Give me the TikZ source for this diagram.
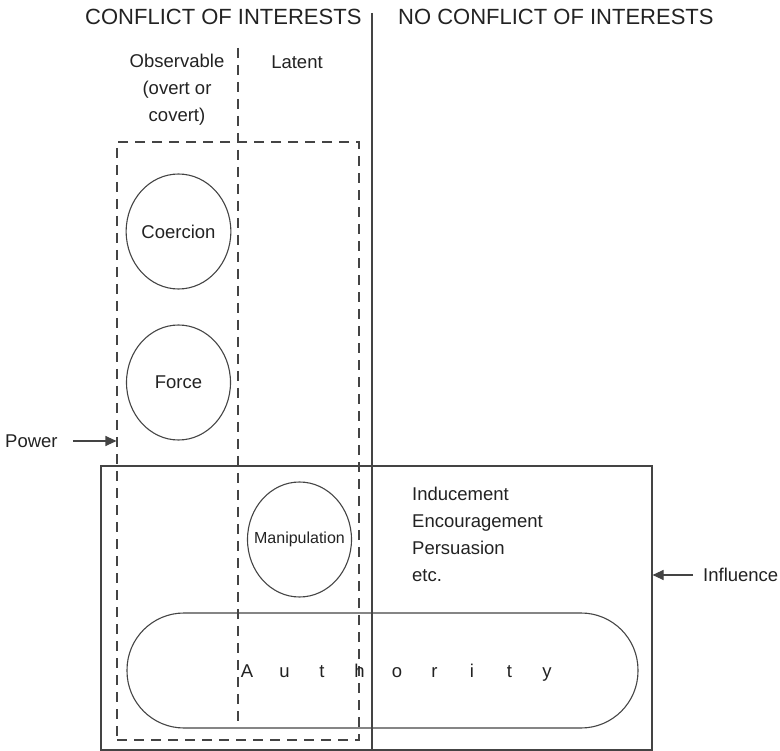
\documentclass[tikz,border=0pt]{standalone}
\usepackage{fontspec}
\setmainfont{Liberation Sans}
\usetikzlibrary{arrows.meta,positioning,shapes.geometric}
\definecolor{ink}{HTML}{222222}
\definecolor{edge}{HTML}{444444}

\begin{document}
\begin{tikzpicture}[x=1pt,y=-1pt,
  txt/.style={text=ink,font=\fontsize{18.5}{27}\selectfont,inner sep=0pt},
  head/.style={text=ink,font=\fontsize{22}{26}\selectfont,inner sep=0pt},
  frame/.style={draw=edge,line width=1.1pt,inner sep=0pt},
  bubble/.style={frame,ellipse,minimum width=104pt,minimum height=115pt,txt},
  dashbox/.style={frame,dash pattern=on 10pt off 7pt},
  arr/.style={-{Triangle[length=11pt,width=10pt]},draw=edge,line width=1.1pt}]
\useasboundingbox (0,0) rectangle (780,751);
% headings
\node[head,anchor=west] (coi) at (85,17) {CONFLICT OF INTERESTS};
\node[head,anchor=west] (ncoi) at (398,17) {NO CONFLICT OF INTERESTS};
\node[txt,align=center] (obs) at (177,90) {Observable\\(overt or\\covert)};
\node[txt] (lat) at (297,62) {Latent};
\draw[edge,line width=1.1pt] (372,13) -- (372,751);
\draw[dashbox] (238,48) -- (238,728);
% boxes
\node[dashbox,minimum width=242pt,minimum height=598pt] (powbox) at (238,441) {};
\node[frame,minimum width=551pt,minimum height=284pt] (inflbox) at (376.5,608) {};
\node[frame,rounded corners=57pt,minimum width=511pt,minimum height=115pt] (auth) at (382.5,670.5) {};
\node[txt] (authlbl) at (397,673) {\foreach \c in {A,u,t,h,o,r,i,t,y}{\makebox[37.5pt]{\c}}};
% forms of power
\node[bubble] (coer) at (178.5,231.5) {Coercion};
\node[bubble] (force) at (178.5,382.5) {Force};
\node[bubble,inner xsep=-14pt,font=\fontsize{16}{19}\selectfont] (manip) at (299.5,539.5) {Manipulation};
\node[txt,align=left,anchor=north west] (kinds) at (412,487) {Inducement\\Encouragement\\Persuasion\\etc.};
% side labels
\node[txt,anchor=west] (powlbl) at (5,441) {Power};
\draw[arr] ([xshift=15pt]powlbl.east) -- (powlbl.east -| powbox.west);
\node[txt,anchor=west] (infl) at (703,575) {Influence};
\draw[arr] ([xshift=-10pt]infl.west) -- (infl.west -| inflbox.east);
\end{tikzpicture}
\end{document}
